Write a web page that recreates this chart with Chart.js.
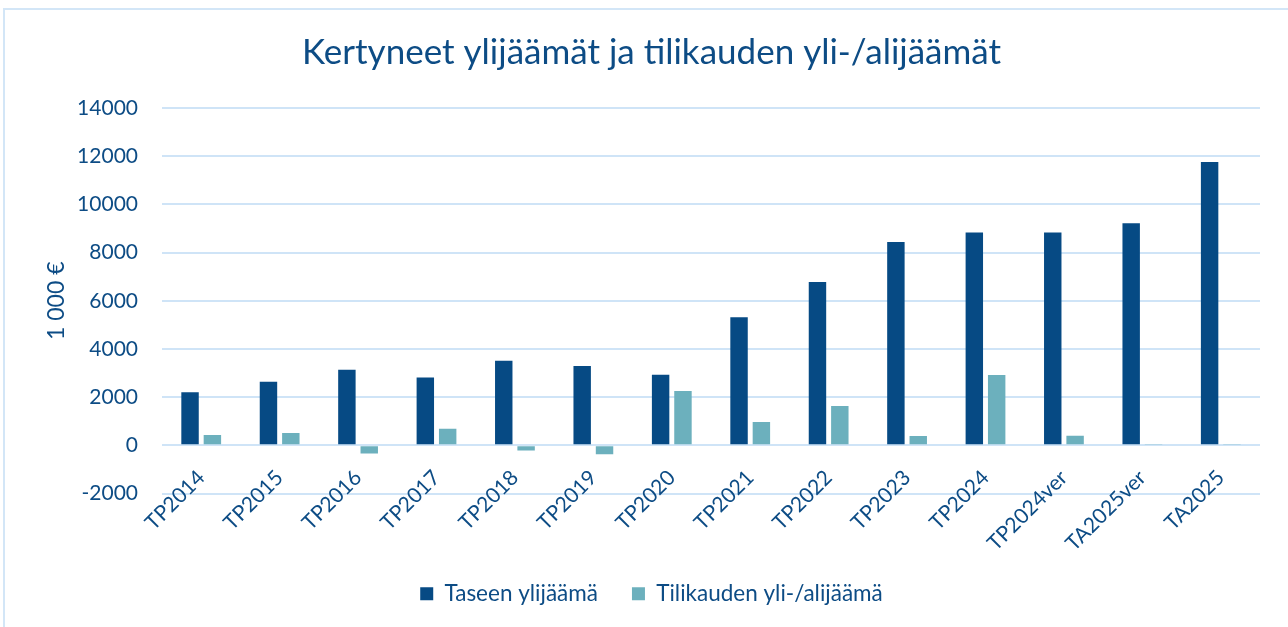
<!DOCTYPE html>
<html>
<head>
<meta charset="utf-8">
<script src="https://cdn.jsdelivr.net/npm/chart.js@4.4.1/dist/chart.umd.min.js"></script>
<style>
  html, body { margin: 0; padding: 0; background: #ffffff; }
  #wrap { position: absolute; left: 0; top: 0; width: 1288px; height: 627px; }
  #frame { position: absolute; left: 3px; top: 8px; width: 1300px; height: 640px; border: 2px solid #d3e6f7; box-sizing: border-box; }
  canvas { position: absolute; left: 0; top: 0; }
</style>
</head>
<body>
<div id="wrap">
  <div id="frame"></div>
  <canvas id="c" width="1288" height="627"></canvas>
</div>
<script>
const categories = ["TP2014","TP2015","TP2016","TP2017","TP2018","TP2019","TP2020","TP2021","TP2022","TP2023","TP2024","TP2024ver","TA2025ver","TA2025"];
const taseenYlijaama = [2200, 2640, 3140, 2810, 3510, 3290, 2930, 5320, 6780, 8440, 8830, 8830, 9220, 11760];
const tilikaudenTulos = [430, 515, -345, 690, -220, -370, 2250, 970, 1630, 390, 2920, 400, 50, 50];
const yTicks = [-2000, 0, 2000, 4000, 6000, 8000, 10000, 12000, 14000];
const seriesNames = ["Taseen ylijäämä", "Tilikauden yli-/alijäämä"];
const titleText = "Kertyneet ylijäämät ja tilikauden yli-/alijäämät";
const yTitle = "1 000 €";

const TXT = '#0d4c85';
const FONT = "Lato, 'Open Sans', sans-serif";

// x labels sit just under the zero line (axis crosses at 0), so lift the x scale box
const liftXLabels = {
  id: 'liftXLabels',
  afterLayout(chart) {
    const x = chart.scales.x;
    const y = chart.scales.y;
    const zeroY = y.getPixelForValue(0);
    x.top = zeroY + 16;
    x._labelItems = null;
  }
};

new Chart(document.getElementById('c'), {
  type: 'bar',
  data: {
    labels: categories,
    datasets: [
      { label: seriesNames[0], data: taseenYlijaama, backgroundColor: '#064a84', borderWidth: 0,
        categoryPercentage: 0.57, barPercentage: 0.78 },
      { label: seriesNames[1], data: tilikaudenTulos, backgroundColor: '#6cb0bd', borderWidth: 0,
        categoryPercentage: 0.57, barPercentage: 0.78 }
    ]
  },
  plugins: [liftXLabels],
  options: {
    responsive: false,
    animation: false,
    devicePixelRatio: 1,
    layout: { padding: { left: 43, right: 28, top: 0, bottom: 12 } },
    plugins: {
      title: { display: true, text: titleText, color: TXT,
        font: { family: FONT, size: 35, weight: 'normal' }, padding: { top: 32, bottom: 34 } },
      legend: { position: 'bottom',
        labels: { color: TXT, font: { family: FONT, size: 22.5 }, boxWidth: 13, boxHeight: 13, padding: 34 } },
      tooltip: { enabled: false }
    },
    scales: {
      x: {
        grid: { display: false, drawTicks: false },
        border: { display: false },
        ticks: { color: TXT, font: { family: FONT, size: 21 }, maxRotation: 45, minRotation: 45, padding: 4, autoSkip: false },
        afterFit: (s) => { s.height = 55; }
      },
      y: {
        min: -2000, max: 14000,
        afterBuildTicks: (s) => { s.ticks = yTicks.map(v => ({ value: v })); },
        grid: { color: '#cfe4f7', lineWidth: 2, drawTicks: false },
        border: { display: false },
        ticks: { color: TXT, font: { family: FONT, size: 21 }, padding: 24, callback: (v) => String(v) },
        title: { display: true, text: yTitle, color: TXT, font: { family: FONT, size: 23 }, padding: 0 },
        afterFit: (s) => { s.width = 119; }
      }
    }
  }
});
</script>
</body>
</html>
